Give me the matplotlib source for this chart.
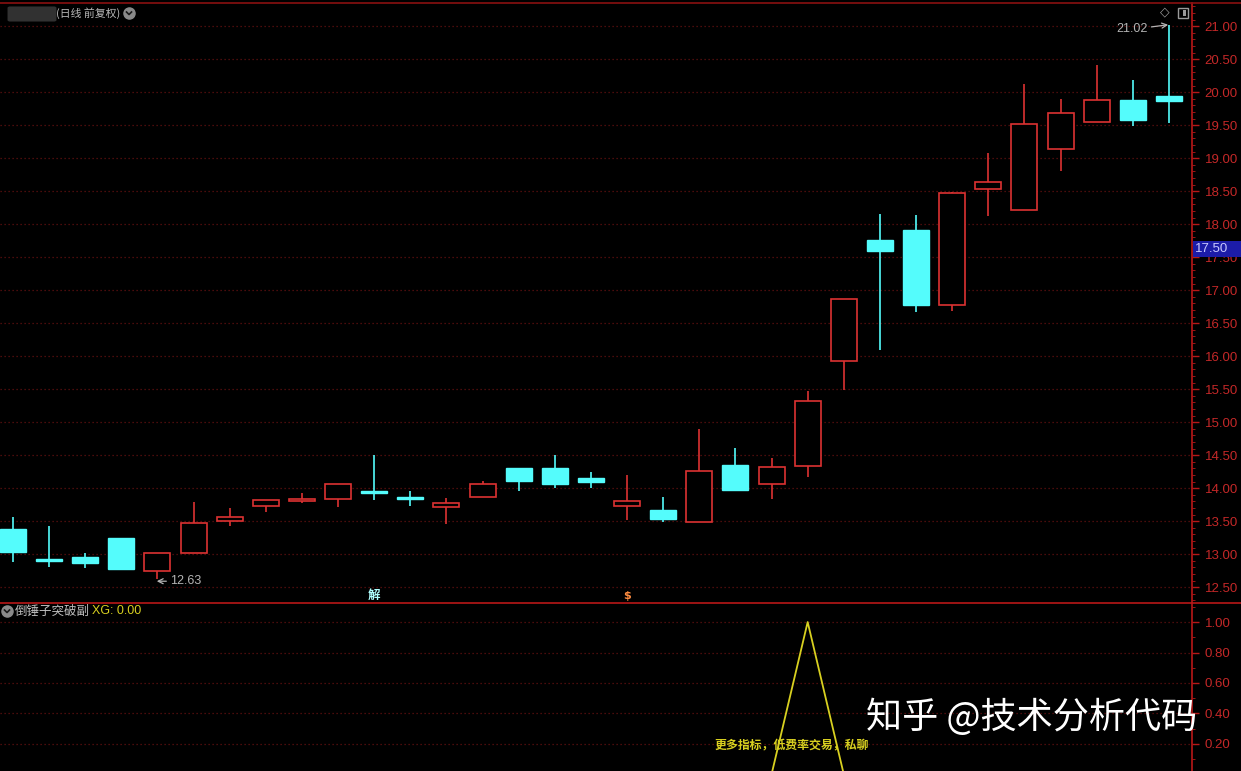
import numpy as np
import matplotlib
matplotlib.use("Agg")
import matplotlib.pyplot as plt
from matplotlib.patches import Rectangle, FancyBboxPatch
from matplotlib.lines import Line2D

plt.rcParams['font.family'] = ['Noto Sans CJK SC', 'DejaVu Sans']

# ---------------- data ----------------
opens  = [13.38, 12.91, 12.95, 13.24, 12.74, 13.02, 13.50, 13.73, 13.80, 13.83, 13.95,
          13.86, 13.71, 13.87, 14.30, 14.30, 14.16, 13.73, 13.67, 13.49, 14.35, 14.07,
          14.33, 15.92, 17.76, 17.91, 16.77, 18.53, 18.21, 19.14, 19.55, 19.88, 19.94]
closes = [13.03, 12.89, 12.86, 12.77, 13.02, 13.47, 13.56, 13.82, 13.84, 14.07, 13.92,
          13.83, 13.78, 14.07, 14.11, 14.07, 14.09, 13.80, 13.54, 14.26, 13.97, 14.32,
          15.32, 16.86, 17.59, 16.77, 18.47, 18.64, 19.52, 19.68, 19.88, 19.58, 19.87]
highs  = [13.56, 13.42, 13.01, 13.25, 13.02, 13.79, 13.70, 13.82, 13.92, 14.07, 14.50,
          13.95, 13.85, 14.11, 14.31, 14.50, 14.25, 14.20, 13.86, 14.89, 14.61, 14.46,
          15.47, 16.87, 18.15, 18.14, 18.48, 19.08, 20.12, 19.89, 20.41, 20.18, 21.02]
lows   = [12.88, 12.80, 12.79, 12.76, 12.63, 13.02, 13.43, 13.64, 13.77, 13.72, 13.82,
          13.73, 13.45, 13.87, 13.95, 14.00, 14.00, 13.52, 13.48, 13.48, 13.97, 13.83,
          14.17, 15.48, 16.09, 16.67, 16.68, 18.12, 18.21, 18.80, 19.55, 19.48, 19.53]
xg     = [0]*22 + [1] + [0]*10
price_ticks = [12.5, 13.0, 13.5, 14.0, 14.5, 15.0, 15.5, 16.0, 16.5, 17.0, 17.5,
               18.0, 18.5, 19.0, 19.5, 20.0, 20.5, 21.0]
xg_ticks = [0.2, 0.4, 0.6, 0.8, 1.0]

# ---------------- style ----------------
BG = 'black'
UP = '#dc3232'
DN = '#54fcfc'
AXRED = '#b81818'
TICKRED = '#c42828'
GRID = '#621010'
W, H = 1241, 771

fig = plt.figure(figsize=(W/100, H/100), dpi=100, facecolor=BG)
axw = 1192 / W
ax = fig.add_axes([0, 168/H, axw, 600/H], facecolor=BG)
ax2 = fig.add_axes([0, 0, axw, 168/H], facecolor=BG)

x = np.arange(len(opens))
o = np.array(opens); c = np.array(closes); hi = np.array(highs); lo = np.array(lows)
up = c >= o
bw = 0.72

# wicks
ax.vlines(x[up], lo[up], hi[up], color=UP, lw=1.2, zorder=2)
ax.vlines(x[~up], lo[~up], hi[~up], color=DN, lw=1.2, zorder=2)
# bodies
bottoms = np.minimum(o, c)
heights = np.maximum(np.abs(c - o), 0.04)
ax.bar(x[up], heights[up], bottom=bottoms[up], width=bw, facecolor=BG,
       edgecolor=UP, linewidth=1.2, zorder=3)
ax.bar(x[~up], heights[~up], bottom=bottoms[~up], width=bw, facecolor=DN,
       edgecolor=DN, linewidth=1.0, zorder=3)

ax.set_xlim(-0.36, 32.64)
ax.set_ylim(12.26, 21.35)
ax2.set_xlim(-0.36, 32.64)
ax2.set_ylim(0.022, 1.125)

for a, ticks in ((ax, price_ticks), (ax2, xg_ticks)):
    for s in ('top', 'left', 'bottom'):
        a.spines[s].set_visible(False)
    a.spines['right'].set_color(AXRED)
    a.spines['right'].set_linewidth(1.2)
    a.set_xticks([])
    a.yaxis.tick_right()
    a.set_yticks(ticks)
    a.set_yticklabels(['%.2f' % t for t in ticks], color=TICKRED,
                      fontsize=9.5, family='Liberation Sans')
    a.tick_params(axis='y', colors=AXRED, labelcolor=TICKRED, length=5,
                  width=1, pad=4, direction='out')
    for t in ticks:
        a.axhline(t, color=GRID, lw=0.9, ls=(0, (1, 2.2)), zorder=0)

ax.set_yticks(np.arange(12.3, 21.31, 0.1), minor=True)
ax.tick_params(axis='y', which='minor', length=2.5, colors=AXRED)
ax2.set_yticks(np.arange(0.1, 1.11, 0.1), minor=True)
ax2.tick_params(axis='y', which='minor', length=2.5, colors=AXRED)

# XG line
ax2.plot(x, xg, color='#d8d020', lw=1.3, zorder=3)

# annotations
ax.annotate('21.02', xy=(31.98, 21.02), xytext=(31.4, 20.95), color='#b4b4b4',
            fontsize=9, family='Liberation Sans', ha='right', va='center',
            arrowprops=dict(arrowstyle='->', color='#b4b4b4', lw=0.9,
                            shrinkA=1, shrinkB=0))
ax.annotate('12.63', xy=(3.98, 12.59), xytext=(4.36, 12.59), color='#b4b4b4',
            fontsize=9, family='Liberation Sans', ha='left', va='center',
            arrowprops=dict(arrowstyle='->', color='#b4b4b4', lw=0.9,
                            shrinkA=1, shrinkB=0))
ax.text(10, 12.38, '解', color='#b0ffff', fontsize=9, fontweight='bold',
        ha='center', va='center')
ax.text(17, 12.36, '$', color='#ff8c40', fontsize=8, fontweight='bold',
        ha='center', va='center', family='DejaVu Sans')


def icon(px, py):
    fig.add_artist(Line2D([px/W], [1 - py/H], marker='o', markersize=8,
                          color='#8a8a8a', transform=fig.transFigure, lw=0))
    fig.add_artist(Line2D([(px-2.5)/W, px/W, (px+2.5)/W],
                          [1 - (py-1)/H, 1 - (py+1.5)/H, 1 - (py-1)/H],
                          color='#1a1a1a', lw=1.2, transform=fig.transFigure))


# title area
fig.patches.append(FancyBboxPatch((10/W, 1 - 20/H), 44/W, 12/H,
                                  boxstyle='round,pad=0.002', transform=fig.transFigure,
                                  facecolor='#5a5a5a', edgecolor='none', alpha=0.55))
fig.text(56/W, 1 - 13/H, '(日线 前复权)', color='#b8b8b8', fontsize=7.8,
         ha='left', va='center')
icon(129, 13)

# top/bottom separators
fig.add_artist(Line2D([0, 1], [1 - 3/H, 1 - 3/H], color='#8a1010', lw=1.2,
                      transform=fig.transFigure))
fig.add_artist(Line2D([0, 1], [168/H, 168/H], color='#b81818', lw=1.2,
                      transform=fig.transFigure))

# top right icons
fig.text(1165/W, 1 - 12/H, '◇', color='#9a9a9a', fontsize=9, ha='center',
         va='center', family='DejaVu Sans')
fig.patches.append(Rectangle((1178/W, 1 - 18/H), 10/W, 10/H, transform=fig.transFigure,
                             facecolor='none', edgecolor='#9a9a9a', lw=1))
fig.patches.append(Rectangle((1183/W, 1 - 16/H), 3/W, 6/H, transform=fig.transFigure,
                             facecolor='#9a9a9a', edgecolor='none'))

# 17.50 highlighted label
fig.patches.append(Rectangle((1193/W, 1 - 257/H), 48/W, 16/H, transform=fig.transFigure,
                             facecolor='#1c1ca8', edgecolor='none', zorder=5))
fig.text(1195/W, 1 - 249/H, '17.50', color='#c8c8ff', fontsize=9.5,
         family='Liberation Sans', ha='left', va='center', zorder=6)

# bottom panel header
icon(7, 611)
fig.text(15/W, 1 - 611/H, '倒锤子突破副', color='#c0c0c0', fontsize=9,
         ha='left', va='center')
fig.text(92/W, 1 - 611/H, 'XG: 0.00', color='#d8d020', fontsize=9,
         family='Liberation Sans', ha='left', va='center')

# bottom yellow text and watermark
fig.text(715/W, 1 - 745/H, '更多指标，低费率交易，私聊', color='#d8d020', fontsize=8.6,
         fontweight='bold', ha='left', va='center')
fig.text(866/W, 1 - 717/H, '知乎 @技术分析代码', color='white', fontsize=26,
         ha='left', va='center')

fig.savefig('out.png', dpi=100, facecolor=BG)
